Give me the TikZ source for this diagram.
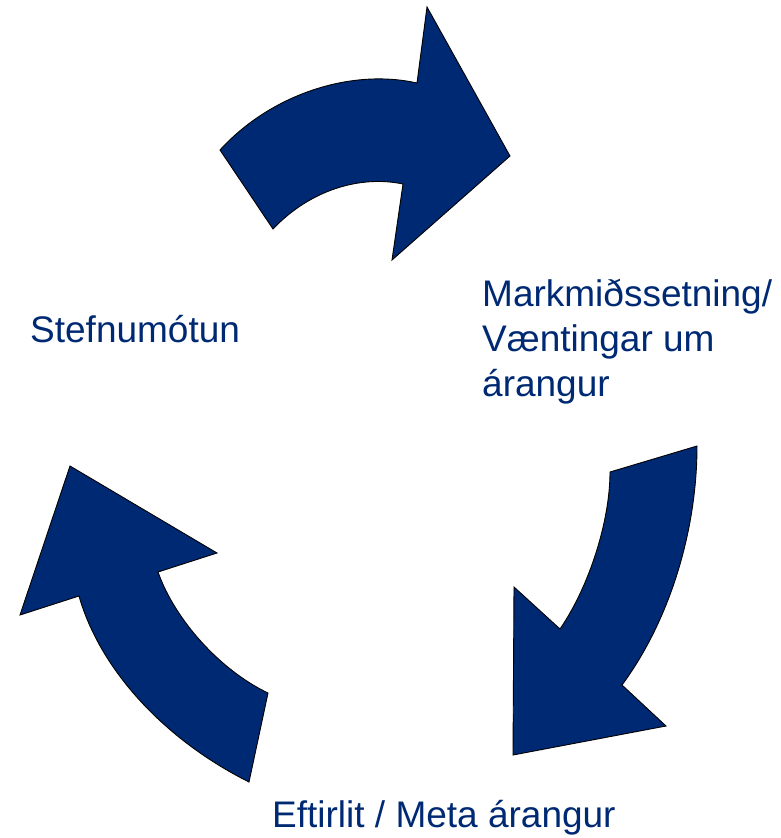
\documentclass[tikz,border=0pt]{standalone}
\usepackage{fontspec}
\setmainfont{Liberation Sans}
\definecolor{navy}{RGB}{0,41,115}
\begin{document}
\begin{tikzpicture}[x=1pt,y=-1pt,
  cyclearrow/.style={fill=navy,draw=black,line width=0.9pt,line join=miter},
  label/.style={text=navy,font=\fontsize{37}{45}\selectfont,inner sep=0pt,anchor=base west,align=left}]
\useasboundingbox (0,0) rectangle (781,838);
% top arrow
\path[cyclearrow] (220,150) .. controls (270,95) and (350,68) .. (417,83)
  -- (427,7) -- (510,156) -- (392,260) -- (403,184)
  .. controls (360,175) and (310,190) .. (273,229) -- cycle;
% right arrow
\path[cyclearrow] (697,446) .. controls (697,530) and (670,620) .. (622,685)
  -- (666,726) -- (513,755) -- (514,587) -- (560,629)
  .. controls (590,585) and (610,520) .. (610,472) -- cycle;
% left arrow
\path[cyclearrow] (249,782) .. controls (165,740) and (100,670) .. (79,596)
  -- (20,615) -- (70,466) -- (217,553) -- (158,572)
  .. controls (175,620) and (220,670) .. (268,693) -- cycle;
\node[label] (s) at (30,342) {Stefnumótun};
\node[label,anchor=north west] (m) at (482,279) {Markmiðssetning/\\Væntingar um\\árangur};
\node[label] (e) at (272,827) {Eftirlit / Meta árangur};
\end{tikzpicture}
\end{document}
